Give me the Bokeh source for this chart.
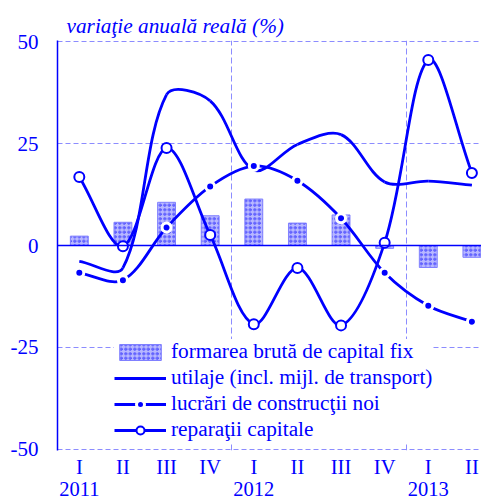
from bokeh.plotting import figure
from bokeh.models import (Range1d, FixedTicker, LinearAxis, Span, Legend, LegendItem,
                          ColumnDataSource, Grid)
from bokeh.embed import file_html
from bokeh.resources import INLINE
import math

# ---- data ----
quarters = ["I", "II", "III", "IV", "I", "II", "III", "IV", "I", "II"]
years = ["2011", "2012", "2013"]
year_pos = [0, 4, 8]
fbcf = [2.3, 5.7, 10.6, 7.3, 11.4, 5.5, 7.5, -0.7, -5.4, -2.9]
utilaje = [-3.9, -5.5, 37.0, 35.5, 18.5, 24.8, 27.2, 15.6, 15.8, 14.8]
lucrari = [-6.7, -8.5, 4.4, 14.5, 19.5, 15.9, 6.7, -6.7, -14.8, -18.7]
reparatii = [16.8, -0.2, 23.9, 2.6, -19.3, -5.5, -19.6, 0.7, 45.5, 17.8]
y_ticks = [-50, -25, 0, 25, 50]
y_labels = {-50: "-50", -25: "-25", 0: "0", 25: "25", 50: "50"}

BLUE = "#0000ff"
GRID = "#8c8cff"
FONT = "Liberation Serif"
xs = list(range(len(quarters)))
PX_X, PX_Y = 43.6, 4.06   # screen pixels per x unit / y unit (for smoothing weights)


def smooth(ys):
    """Bezier segments with length-weighted smoothing (like spreadsheet smoothed lines)."""
    n = len(ys)
    pts = [(xs[i], ys[i]) for i in range(n)]

    def dist(a, b):
        return math.hypot((a[0] - b[0]) * PX_X, (a[1] - b[1]) * PX_Y)

    d = {k: [] for k in ("x0", "y0", "x1", "y1", "cx0", "cy0", "cx1", "cy1")}
    for i in range(n - 1):
        p0 = pts[max(i - 1, 0)]
        p1 = pts[i]
        p2 = pts[i + 1]
        p3 = pts[min(i + 2, n - 1)]
        d01, d12, d23 = dist(p0, p1), dist(p1, p2), dist(p2, p3)
        w1 = d12 / (d01 + d12) / 3 if (d01 + d12) > 0 else 0
        w2 = d12 / (d12 + d23) / 3 if (d12 + d23) > 0 else 0
        d["x0"].append(p1[0]); d["y0"].append(p1[1])
        d["x1"].append(p2[0]); d["y1"].append(p2[1])
        d["cx0"].append(p1[0] + (p2[0] - p0[0]) * w1)
        d["cy0"].append(p1[1] + (p2[1] - p0[1]) * w1)
        d["cx1"].append(p2[0] - (p3[0] - p1[0]) * w2)
        d["cy1"].append(p2[1] - (p3[1] - p1[1]) * w2)
    return ColumnDataSource(d)


p = figure(width=481, height=500, x_range=Range1d(-0.5, 9.22), y_range=Range1d(-50.3, 50.3),
           x_axis_type=None, y_axis_type=None, output_backend="svg", toolbar_location=None,
           min_border_left=57, min_border_right=0, min_border_top=40, min_border_bottom=50)
p.outline_line_color = None
p.background_fill_color = "white"

# title
p.title.text = "variaţie anuală reală (%)"
p.title.text_font = FONT
p.title.text_font_style = "italic"
p.title.text_font_size = "21.3px"
p.title.text_color = BLUE
p.title.align = "left"
p.title.offset = 9
p.title.standoff = 6

# grids
p.add_layout(Grid(dimension=1, ticker=FixedTicker(ticks=[-50, -25, 25, 50], minor_ticks=[]),
                  grid_line_color=GRID, grid_line_dash="5 3", grid_line_width=1))
p.add_layout(Grid(dimension=0, ticker=FixedTicker(ticks=[3.5, 7.5], minor_ticks=[]),
                  grid_line_color=GRID, grid_line_dash="6 3", grid_line_width=1))

# axes
yax = LinearAxis(ticker=FixedTicker(ticks=y_ticks, minor_ticks=[]),
                 major_label_overrides=y_labels)
yax.axis_line_color = BLUE
yax.axis_line_width = 1.5
yax.major_tick_line_color = None
yax.major_tick_out = 0
yax.major_tick_in = 0
yax.major_label_standoff = 19
yax.major_label_text_font = FONT
yax.major_label_text_font_size = "21px"
yax.major_label_text_color = BLUE
p.add_layout(yax, "left")

qax = LinearAxis(ticker=FixedTicker(ticks=xs, minor_ticks=[]),
                 major_label_overrides={i: q for i, q in enumerate(quarters)})
yrax = LinearAxis(ticker=FixedTicker(ticks=year_pos, minor_ticks=[]),
                  major_label_overrides={pos: y for pos, y in zip(year_pos, years)})
for ax, so in ((qax, 5), (yrax, 1)):
    ax.axis_line_color = None
    ax.major_tick_line_color = None
    ax.major_tick_out = 0
    ax.major_tick_in = 0
    ax.major_label_standoff = so
    ax.major_label_text_font = FONT
    ax.major_label_text_font_size = "20.5px"
    ax.major_label_text_color = BLUE
    p.add_layout(ax, "below")

# bars
bars = p.vbar(x=xs, top=fbcf, bottom=0, width=0.41, fill_color="#b8b8ff",
              line_color="#8080ff", line_width=1,
              hatch_pattern="ring", hatch_color="#2a2aff", hatch_scale=4.5, hatch_weight=0.8)

p.add_layout(Span(location=0, dimension="width", line_color=BLUE, line_width=1.5))

# lines
bz = dict(x0="x0", y0="y0", x1="x1", y1="y1", cx0="cx0", cy0="cy0", cx1="cx1", cy1="cy1")
r_ut = p.bezier(source=smooth(utilaje), line_color=BLUE, line_width=2.8, **bz)
r_lu = p.bezier(source=smooth(lucrari), line_color=BLUE, line_width=2.8, **bz)
r_re = p.bezier(source=smooth(reparatii), line_color=BLUE, line_width=2.8, **bz)
m_lu = p.scatter(x=xs, y=lucrari, marker="circle", size=9, fill_color=BLUE,
                 line_color="white", line_width=3)
m_re = p.scatter(x=xs, y=reparatii, marker="circle", size=10, fill_color="white",
                 line_color=BLUE, line_width=2)

legend = Legend(items=[
    LegendItem(label="formarea brută de capital fix", renderers=[bars]),
    LegendItem(label="utilaje (incl. mijl. de transport)", renderers=[r_ut]),
    LegendItem(label="lucrări de construcţii noi", renderers=[r_lu, m_lu]),
    LegendItem(label="reparaţii capitale", renderers=[r_re, m_re]),
])
legend.location = (57, 8)
legend.margin = 0
legend.padding = 5
legend.spacing = 1
legend.glyph_width = 52
legend.glyph_height = 20
legend.label_height = 24
legend.label_standoff = 5
legend.label_text_font = FONT
legend.label_text_font_size = "21.3px"
legend.label_text_color = BLUE
legend.background_fill_color = "white"
legend.background_fill_alpha = 1.0
legend.border_line_color = None
p.add_layout(legend)

open("out.html", "w").write(file_html(p, INLINE))
